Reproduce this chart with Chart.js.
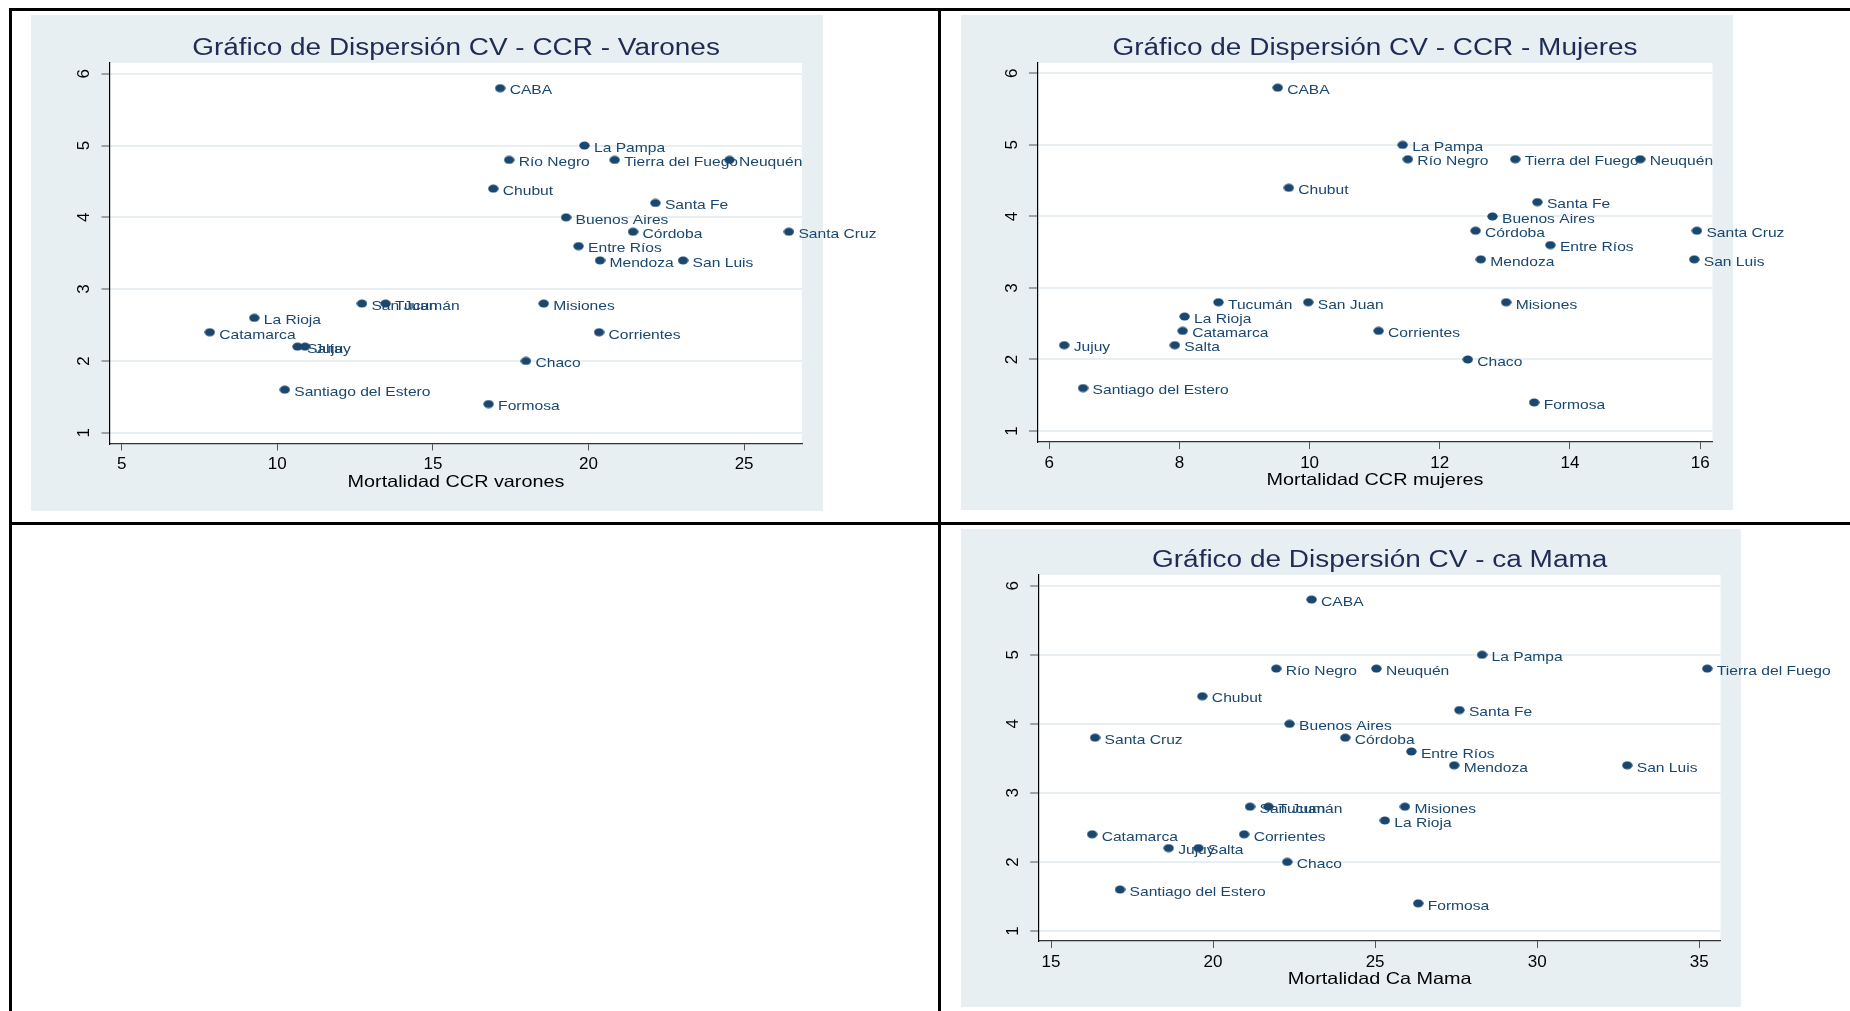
<!DOCTYPE html>
<html><head><meta charset="utf-8">
<script src="https://cdn.jsdelivr.net/npm/chart.js@4.4.1/dist/chart.umd.min.js"></script>
<style>
html,body{margin:0;padding:0;background:#fff;width:1850px;height:1011px;overflow:hidden;}
canvas{position:absolute;}
.ln{position:absolute;background:#000;z-index:5;}
</style></head><body>
<canvas id="c1" width="938" height="522" style="left:0;top:0"></canvas>
<canvas id="c2" width="909" height="522" style="left:941px;top:0"></canvas>
<canvas id="c3" width="909" height="486" style="left:941px;top:525px"></canvas>
<div class="ln" style="left:9px;top:8px;width:1841px;height:3px"></div>
<div class="ln" style="left:9px;top:8px;width:2.5px;height:1003px"></div>
<div class="ln" style="left:938px;top:8px;width:3px;height:1003px"></div>
<div class="ln" style="left:9px;top:522px;width:1841px;height:3px"></div>
<script>
const provincias = ['CABA','La Pampa','Río Negro','Tierra del Fuego','Neuquén','Chubut','Santa Fe','Buenos Aires','Córdoba','Santa Cruz','Entre Ríos','Mendoza','San Luis','San Juan','Tucumán','Misiones','La Rioja','Catamarca','Corrientes','Salta','Jujuy','Chaco','Santiago del Estero','Formosa'];
const cv = [5.8,5.0,4.8,4.8,4.8,4.4,4.2,4.0,3.8,3.8,3.6,3.4,3.4,2.8,2.8,2.8,2.6,2.4,2.4,2.2,2.2,2.0,1.6,1.4];
const ccrVarones = [17.16,19.87,17.45,20.84,24.53,16.94,22.15,19.28,21.43,26.44,19.68,20.37,23.04,12.72,13.48,18.56,9.26,7.83,20.34,10.65,10.89,17.99,10.24,16.79];
const ccrMujeres = [9.51,11.43,11.51,13.16,15.08,9.68,13.50,12.81,12.55,15.95,13.70,12.63,15.91,9.98,8.60,13.02,8.08,8.05,11.06,7.93,6.23,12.43,6.52,13.45];
const caMama = [23.04,28.30,21.95,35.25,25.04,19.67,27.60,22.36,24.08,16.36,26.12,27.44,32.78,21.14,21.71,25.92,25.30,16.27,20.96,19.55,18.63,22.29,17.13,26.33];
const yTicks = [1,2,3,4,5,6];
const xTicksVarones = [5,10,15,20,25];
const xTicksMujeres = [6,8,10,12,14,16];
const xTicksMama = [15,20,25,30,35];

const NAVY = '#1a476f';
const FONT = "'Liberation Sans', Arial, sans-serif";
const STRETCH = 1.2;
const XH = 40;

const markerImg = (function(){
  const c = document.createElement('canvas'); c.width = 11; c.height = 9;
  const g = c.getContext('2d'); g.fillStyle = NAVY; g.beginPath();
  g.ellipse(5.5, 4.5, 5.2, 4.0, 0, 0, Math.PI*2); g.fill(); return c;
})();

function stretchedText(ctx, text, x, y, align, font, color){
  ctx.save(); ctx.font = font; ctx.fillStyle = color; ctx.textBaseline = 'alphabetic'; ctx.textAlign = 'left';
  const w = ctx.measureText(text).width * STRETCH;
  const x0 = align === 'center' ? x - w/2 : x;
  ctx.translate(x0, y); ctx.scale(STRETCH, 1); ctx.fillText(text, 0, 0); ctx.restore();
}

const panelPlugin = {
  id: 'panel',
  beforeDraw(chart, args, opts){
    const ctx = chart.ctx; const b = opts.bg;
    ctx.save(); ctx.fillStyle = '#e8eff2'; ctx.fillRect(b[0], b[1], b[2]-b[0], b[3]-b[1]);
    const a = chart.chartArea; ctx.fillStyle = '#ffffff';
    ctx.fillRect(a.left, a.top, a.right-a.left, a.bottom-a.top); ctx.restore();
  },
  afterDatasetsDraw(chart, args, opts){
    const ctx = chart.ctx; const meta = chart.getDatasetMeta(0);
    meta.data.forEach((pt, i) => {
      stretchedText(ctx, opts.labels[i], pt.x + 9.5, pt.y + 6.3, 'left', '13px ' + FONT, NAVY);
    });
    const a = chart.chartArea; const cx = (a.left + a.right) / 2;
    stretchedText(ctx, opts.title, cx, a.top - 8, 'center', '23.3px ' + FONT, '#1e2c55');
    stretchedText(ctx, opts.xTitle, cx, a.bottom + 43, 'center', '16.5px ' + FONT, '#000');
  }
};

function makeChart(id, xs, xmin, xmax, xt, ymin, ymax, area, bg, title, xTitle){
  const cnv = document.getElementById(id);
  const W = cnv.width, H = cnv.height;
  return new Chart(cnv, {
    type: 'scatter',
    data: { datasets: [{ data: xs.map((v, i) => ({x: v, y: cv[i]})), pointStyle: markerImg, pointRadius: 5, pointHoverRadius: 5 }] },
    options: {
      responsive: false, animation: false, events: [],
      layout: { padding: { left: 0, top: area.top, right: W - area.right, bottom: H - area.bottom - XH } },
      plugins: { legend: {display: false}, tooltip: {enabled: false}, title: {display: false},
        panel: { bg: bg, title: title, xTitle: xTitle, labels: provincias } },
      scales: {
        x: { type: 'linear', min: xmin, max: xmax,
          afterBuildTicks: s => { s.ticks = xt.map(v => ({value: v})); },
          afterFit: s => { s.height = XH; },
          grid: { drawOnChartArea: false, drawTicks: true, tickLength: 7, tickColor: '#555', tickWidth: 1 },
          border: { display: true, color: '#333', width: 1.2 },
          ticks: { font: {family: FONT, size: 17}, color: '#000', padding: 4, maxRotation: 0, autoSkip: false } },
        y: { type: 'linear', min: ymin, max: ymax,
          afterBuildTicks: s => { s.ticks = yTicks.map(v => ({value: v})); },
          afterFit: s => { s.width = area.left; },
          grid: { color: '#e8eff2', lineWidth: 2, drawTicks: true, tickLength: 8.5, tickColor: '#555', tickWidth: 1 },
          border: { display: true, color: '#000', width: 1.2 },
          ticks: { font: {family: FONT, size: 17}, color: '#000', minRotation: 90, maxRotation: 90, crossAlign: 'center', padding: 12, autoSkip: false } }
      }
    },
    plugins: [panelPlugin]
  });
}

makeChart('c1', ccrVarones, 4.624, 26.86, xTicksVarones, 0.85, 6.15,
  {left: 110, right: 802, top: 63, bottom: 443.5}, [31, 15, 823, 511],
  'Gráfico de Dispersión CV - CCR - Varones', 'Mortalidad CCR varones');
makeChart('c2', ccrMujeres, 5.82, 16.19, xTicksMujeres, 0.846, 6.145,
  {left: 96.5, right: 771.5, top: 63, bottom: 442}, [20, 15, 792, 510],
  'Gráfico de Dispersión CV - CCR - Mujeres', 'Mortalidad CCR mujeres');
makeChart('c3', caMama, 14.62, 35.66, xTicksMama, 0.855, 6.155,
  {left: 97.7, right: 779.6, top: 50, bottom: 416}, [20, 4, 800, 482],
  'Gráfico de Dispersión CV - ca Mama', 'Mortalidad Ca Mama');
</script>
</body></html>
